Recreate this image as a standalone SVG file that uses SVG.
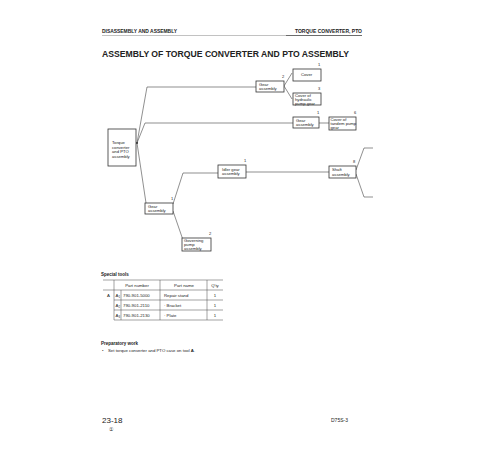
<svg xmlns="http://www.w3.org/2000/svg" width="500" height="450" viewBox="0 0 500 450">
<style>
text{font-family:"Liberation Sans",Arial,sans-serif;fill:#222}
.n{font-size:4.2px}
.num{font-size:4px}
.box{fill:#fff;stroke:#333;stroke-width:0.8}
.c{fill:none;stroke:#444;stroke-width:0.6}
.t{fill:none;stroke:#444;stroke-width:0.5}
.h{font-size:5px;font-weight:bold}
.s{font-size:4.3px}
</style>
<rect width="500" height="450" fill="#fff"/>
<text x="102" y="33" class="h" textLength="75" lengthAdjust="spacingAndGlyphs">DISASSEMBLY AND ASSEMBLY</text>
<text x="295" y="33" class="h" textLength="67" lengthAdjust="spacingAndGlyphs">TORQUE CONVERTER, PTO</text>
<line x1="102" y1="35.5" x2="362" y2="35.5" stroke="#666" stroke-width="0.4"/>
<line x1="286" y1="35.5" x2="362" y2="35.5" stroke="#333" stroke-width="0.6"/>
<text x="102" y="57" font-size="8.5" font-weight="bold" textLength="247" lengthAdjust="spacingAndGlyphs">ASSEMBLY OF TORQUE CONVERTER AND PTO ASSEMBLY</text>

<g id="connectors">
<polyline class="c" points="137,143 147,87 257,87"/>
<polyline class="c" points="137,143 145,123 293,123"/>
<polyline class="c" points="137,143 146,203"/>
<polyline class="c" points="284,86 292,73"/>
<polyline class="c" points="284,86 292,99"/>
<line class="c" x1="319" y1="123" x2="329" y2="123"/>
<polyline class="c" points="173,204 183,173 218,173"/>
<line class="c" x1="173" y1="211" x2="183" y2="240"/>
<line class="c" x1="246" y1="172" x2="329" y2="172"/>
<polyline class="c" points="356,170 364,148 373,148"/>
<polyline class="c" points="356,174 364,197 373,197"/>
<circle cx="137" cy="143" r="0.9" fill="#222"/>
</g>

<g id="torque">
<rect class="box" x="108" y="129" width="28" height="37"/>
<text class="n" x="112" y="144">Torque</text>
<text class="n" x="112" y="148.5">converter</text>
<text class="n" x="112" y="153">and PTO</text>
<text class="n" x="112" y="157.5">assembly</text>
</g>
<g id="gear1">
<rect class="box" x="256" y="81" width="28" height="11"/>
<text class="n" x="259" y="85.5">Gear</text>
<text class="n" x="259" y="90">assembly</text>
<text class="num" x="282" y="78">2</text>
</g>
<g id="cover">
<rect class="box" x="293" y="69" width="28" height="12"/>
<text class="n" x="301" y="76">Cover</text>
<text class="num" x="318" y="66">1</text>
</g>
<g id="coverhyd">
<rect class="box" x="293" y="93" width="28" height="12"/>
<text class="n" x="295" y="96.5">Cover of</text>
<text class="n" x="295" y="100.5">hydraulic</text>
<text class="n" x="295" y="104.5">pump gear</text>
<text class="num" x="318" y="90">3</text>
</g>
<g id="gear2">
<rect class="box" x="293" y="117" width="26" height="11"/>
<text class="n" x="296" y="121.5">Gear</text>
<text class="n" x="296" y="126">assembly</text>
<text class="num" x="317" y="114">1</text>
</g>
<g id="covertandem">
<rect class="box" x="329" y="117" width="27" height="13"/>
<text class="n" x="330.5" y="120.5">Cover of</text>
<text class="n" x="330.5" y="124.5">tandem pump</text>
<text class="n" x="330.5" y="128.5">gear</text>
<text class="num" x="354" y="114">6</text>
</g>
<g id="gear3">
<rect class="box" x="145" y="203" width="28" height="11"/>
<text class="n" x="148" y="207.5">Gear</text>
<text class="n" x="148" y="212">assembly</text>
<text class="num" x="171" y="200">1</text>
</g>
<g id="idler">
<rect class="box" x="218" y="165" width="28" height="13"/>
<text class="n" x="222" y="170.5">Idler gear</text>
<text class="n" x="222" y="175">assembly</text>
<text class="num" x="244" y="162">1</text>
</g>
<g id="shaft">
<rect class="box" x="329" y="166" width="27" height="12"/>
<text class="n" x="332" y="171">Shaft</text>
<text class="n" x="332" y="175.5">assembly</text>
<text class="num" x="353" y="163">8</text>
</g>
<g id="governing">
<rect class="box" x="182" y="238" width="29" height="13"/>
<text class="n" x="184" y="241.5">Governing</text>
<text class="n" x="184" y="245.5">pump</text>
<text class="n" x="184" y="249.5">assembly</text>
<text class="num" x="209" y="235">2</text>
</g>

<g id="table">
<text x="101" y="276" font-size="4.5" font-weight="bold">Special tools</text>
<line class="t" x1="103" y1="280" x2="223" y2="280"/>
<line class="t" x1="103" y1="290" x2="223" y2="290"/>
<line class="t" x1="114" y1="300" x2="223" y2="300"/>
<line class="t" x1="114" y1="310" x2="223" y2="310"/>
<line class="t" x1="114" y1="320" x2="223" y2="320"/>
<line class="t" x1="114" y1="280" x2="114" y2="320"/>
<line class="t" x1="121" y1="290" x2="121" y2="320"/>
<line class="t" x1="160" y1="280" x2="160" y2="320"/>
<line class="t" x1="207" y1="280" x2="207" y2="320"/>
<text class="s" x="137" y="287" text-anchor="middle">Part number</text>
<text class="s" x="184" y="287" text-anchor="middle">Part name</text>
<text class="s" x="215" y="287" text-anchor="middle">Q'ty</text>
<text class="s" x="107" y="297">A</text>
<text class="s" x="115.5" y="297">A<tspan font-size="2.8" dy="0.8">1</tspan></text>
<text class="s" x="123" y="297">790-901-5000</text>
<text class="s" x="164" y="297">Repair stand</text>
<text class="s" x="215" y="297" text-anchor="middle">1</text>
<text class="s" x="115.5" y="307">A<tspan font-size="2.8" dy="0.8">2</tspan></text>
<text class="s" x="123" y="307">790-901-2110</text>
<text class="s" x="164" y="307">· Bracket</text>
<text class="s" x="215" y="307" text-anchor="middle">1</text>
<text class="s" x="115.5" y="317">A<tspan font-size="2.8" dy="0.8">3</tspan></text>
<text class="s" x="123" y="317">790-901-2130</text>
<text class="s" x="164" y="317">· Plate</text>
<text class="s" x="215" y="317" text-anchor="middle">1</text>
</g>

<text x="101" y="345" font-size="4.5" font-weight="bold">Preparatory work</text>
<text class="s" x="102" y="351.5">•</text>
<text class="s" x="108" y="351.5">Set torque converter and PTO case on tool <tspan font-weight="bold">A</tspan>.</text>

<text x="102" y="423" font-size="8">23-18</text>
<text x="111" y="431" font-size="5" text-anchor="middle">①</text>
<text x="331" y="422" font-size="5">D75S-3</text>
</svg>
